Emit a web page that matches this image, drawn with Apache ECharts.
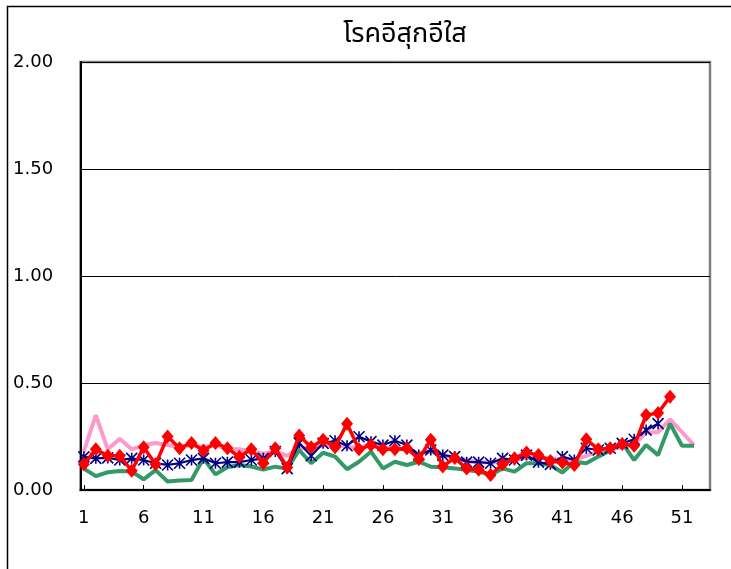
<!DOCTYPE html>
<html><head><meta charset="utf-8">
<script src="https://cdn.jsdelivr.net/npm/echarts@6/dist/echarts.min.js"></script>
<style>html,body{margin:0;padding:0;background:#fff}#c{width:731px;height:569px}</style>
</head><body><div id="c"></div>
<script>
const title = 'โรคอีสุกอีใส';
const weeks = Array.from({length: 52}, (_, i) => i + 1);
const xLabels = [1, 6, 11, 16, 21, 26, 31, 36, 41, 46, 51];
const pink = [0.18,0.35,0.19,0.24,0.19,0.21,0.22,0.21,0.20,0.21,0.20,0.21,0.19,0.19,0.18,0.17,0.18,0.16,0.20,0.19,0.21,0.21,0.20,0.20,0.21,0.20,0.19,0.19,0.17,0.18,0.16,0.15,0.14,0.13,0.13,0.13,0.14,0.15,0.15,0.15,0.14,0.14,0.16,0.18,0.19,0.20,0.21,0.27,0.27,0.33,0.27,0.21];
const green = [0.10,0.065,0.083,0.089,0.086,0.05,0.093,0.04,0.044,0.047,0.148,0.073,0.106,0.117,0.11,0.095,0.109,0.10,0.187,0.125,0.174,0.156,0.097,0.132,0.179,0.101,0.132,0.117,0.132,0.109,0.106,0.101,0.093,0.086,0.07,0.101,0.086,0.125,0.125,0.117,0.082,0.132,0.125,0.156,0.185,0.22,0.14,0.21,0.163,0.31,0.207,0.207];
const blue = [0.155,0.148,0.15,0.14,0.148,0.14,0.125,0.117,0.125,0.14,0.148,0.125,0.13,0.13,0.14,0.148,0.18,0.10,0.22,0.16,0.218,0.23,0.207,0.249,0.226,0.21,0.23,0.21,0.163,0.187,0.163,0.156,0.13,0.13,0.125,0.148,0.14,0.163,0.13,0.12,0.156,0.14,0.195,0.187,0.195,0.218,0.237,0.28,0.31];
const red = [0.12,0.19,0.16,0.16,0.09,0.20,0.12,0.25,0.195,0.22,0.185,0.22,0.195,0.155,0.19,0.125,0.195,0.105,0.255,0.20,0.235,0.20,0.31,0.19,0.21,0.19,0.19,0.195,0.145,0.235,0.11,0.15,0.10,0.095,0.07,0.12,0.148,0.175,0.163,0.135,0.128,0.117,0.237,0.19,0.195,0.215,0.207,0.35,0.36,0.436];

const pair = arr => arr.map((v, i) => [weeks[i], v]);
const font = 'DejaVu Sans';
const chart = echarts.init(document.getElementById('c'), null, {renderer: 'canvas'});
chart.setOption({
  animation: false,
  backgroundColor: '#fff',
  title: {text: title, left: 400, top: 18, textAlign: 'center',
    textStyle: {fontFamily: 'Noto Sans Thai, Noto Sans, sans-serif', fontSize: 27, fontWeight: 'normal', color: '#000'}},
  graphic: [{type: 'polyline', shape: {points: [[7.5, 575], [7.5, 6.5], [740, 6.5]]}, style: {stroke: '#000', lineWidth: 1.5, fill: null}, silent: true}],
  grid: {left: 80.5, top: 62, right: 21, bottom: 79, show: true, borderColor: '#808080', borderWidth: 2.5, backgroundColor: '#fff'},
  xAxis: {type: 'value', min: 0.72, max: 53.34,
    axisLine: {show: true, onZero: false, lineStyle: {color: '#000', width: 2}},
    axisTick: {show: true, inside: true, length: 5, customValues: xLabels, lineStyle: {color: '#000', width: 1}},
    axisLabel: {customValues: xLabels, margin: 19, fontFamily: font, fontSize: 18, color: '#000'},
    splitLine: {show: false}},
  yAxis: {type: 'value', min: 0, max: 2, interval: 0.5,
    axisLine: {show: true, lineStyle: {color: '#000', width: 2}},
    axisTick: {show: true, inside: true, length: 5, lineStyle: {color: '#000'}},
    axisLabel: {align: 'left', margin: 67.5, fontFamily: font, fontSize: 18, color: '#000', padding: [4, 0, 0, 0], formatter: v => v.toFixed(2)},
    splitLine: {show: true, lineStyle: {color: '#000', width: 1}}},
  series: [
    {type: 'line', data: pair(pink), symbol: 'none', lineStyle: {color: '#FF99CC', width: 4}, z: 2},
    {type: 'line', data: pair(green), symbol: 'none', lineStyle: {color: '#339966', width: 4}, z: 3},
    {type: 'line', data: pair(blue), symbol: 'path://M0,0 L10,10 M10,0 L0,10 M5,0 L5,10', symbolSize: 11,
      itemStyle: {color: '#000080', borderColor: '#000080', borderWidth: 1.6}, lineStyle: {color: '#000080', width: 2.2}, z: 4},
    {type: 'line', data: pair(red), symbol: 'diamond', symbolSize: [12, 14],
      itemStyle: {color: '#FF0000'}, lineStyle: {color: '#FF0000', width: 3.5}, z: 5}
  ]
});
</script></body></html>
